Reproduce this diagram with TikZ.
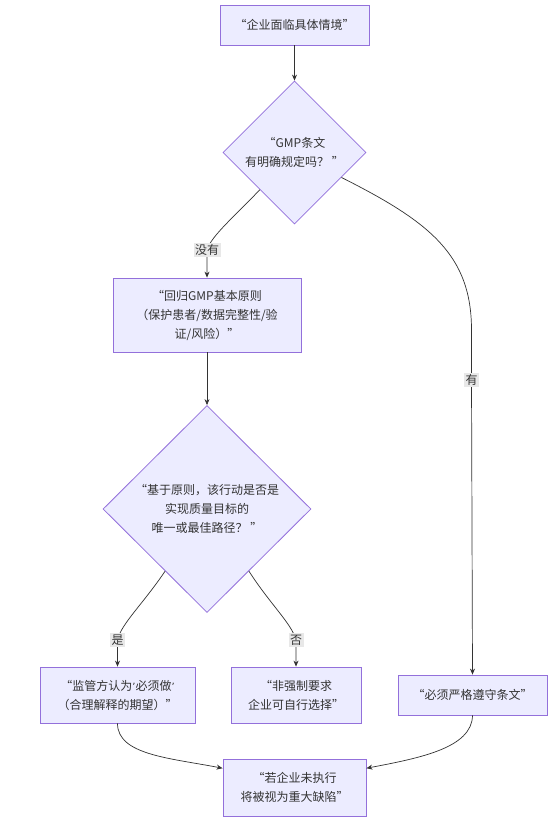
\documentclass[tikz,border=0pt]{standalone}
\usepackage{fontspec}
\setmainfont{Noto Sans CJK SC}
\newfontfamily\aposfont{DejaVu Sans}
\usetikzlibrary{shapes.geometric,arrows.meta}
\definecolor{nodefill}{HTML}{ECECFF}
\definecolor{nodeline}{HTML}{9370DB}
\definecolor{edgecol}{HTML}{333333}
\definecolor{txtcol}{HTML}{333333}
\definecolor{lblbg}{HTML}{E8E8E8}
\tikzset{
  box/.style={draw=nodeline, fill=nodefill, line width=0.8pt, inner sep=0pt, align=center,
    text=txtcol, font=\fontsize{12}{19}\selectfont},
  dia/.style={diamond, draw=nodeline, fill=nodefill, line width=0.8pt, inner sep=0pt, align=center,
    text=txtcol, font=\fontsize{12}{19}\selectfont, aspect=1},
  arr/.style={draw=edgecol, line width=0.7pt, -{Stealth[length=6pt,width=5pt]}},
  lbl/.style={fill=lblbg, inner sep=1.5pt, text=txtcol, font=\fontsize{12}{14}\selectfont}
}
\newcommand{\apos}{{\aposfont\fontsize{10}{12}\selectfont\char"2019}}
\begin{document}
\begin{tikzpicture}[x=1pt,y=-1pt]
\useasboundingbox (0,0) rectangle (557,822);
\fill[white] (0,0) rectangle (557,822);
\node[box, minimum width=149pt, minimum height=40pt] (A) at (294.5,25) {“企业面临具体情境”};
\node[dia, minimum width=143pt, minimum height=143pt] (B) at (294.5,152.5) {“GMP条文\\有明确规定吗？ ”};
\node[box, minimum width=188pt, minimum height=74pt] (C) at (207,315) {“回归GMP基本原则\\（保护患者/数据完整性/验\\证/风险）”};
\node[dia, minimum width=208pt, minimum height=207pt] (D) at (207,509) {“基于原则，该行动是否是\\实现质量目标的\\唯一或最佳路径？ ”};
\node[box, minimum width=155pt, minimum height=56pt] (E) at (117.5,695) {“监管方认为\apos 必须做\apos\\（合理解释的期望）”};
\node[box, minimum width=130pt, minimum height=56pt] (F) at (296,695) {“非强制要求\\企业可自行选择”};
\node[box, minimum width=149pt, minimum height=40pt] (G) at (472.5,695) {“必须严格遵守条文”};
\node[box, minimum width=143pt, minimum height=57pt] (H) at (294.5,787.5) {“若企业未执行\\将被视为重大缺陷”};
\coordinate (cLab) at (207,250);
\coordinate (gBend) at (471.5,330);
\coordinate (gLab) at (471.5,380);
\coordinate (eLab) at (117.5,640);
\coordinate (fLab) at (296,640);
\draw[arr] (A) -- (B);
\draw[arr] (B.-133) .. controls (235,216) and (211,236) .. (cLab) node[lbl] {没有} -- (C.north);
\draw[arr] (B.-28) .. controls (430,222) and (471.5,255) .. (gBend) -- (gLab) node[lbl] {有} -- (G.north);
\draw[arr] (C) -- (D);
\draw[arr] (D.-124) .. controls (143,604) and (121,624) .. (eLab) node[lbl] {是} -- (E.north);
\draw[arr] (D.-56) .. controls (270,604) and (292,624) .. (fLab) node[lbl] {否} -- (F.north);
\draw[arr] (E.south) .. controls (117.5,755) and (170,758) .. (H.165);
\draw[arr] (G.south) .. controls (472,748) and (420,758) .. (H.15);
\end{tikzpicture}
\end{document}
